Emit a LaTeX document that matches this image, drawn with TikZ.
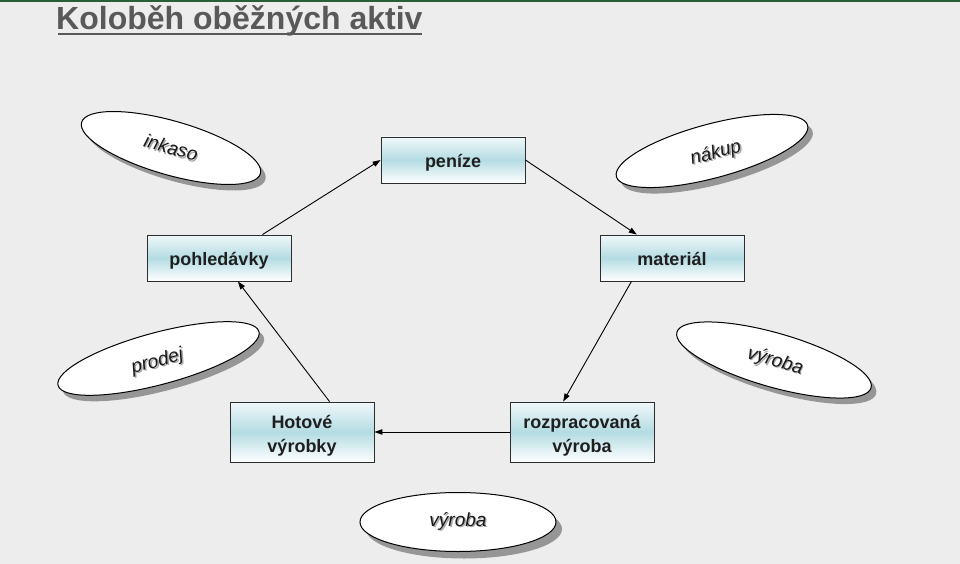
\documentclass[tikz,border=0pt]{standalone}
\usepackage{fontspec}
\setmainfont{Liberation Sans}
\usetikzlibrary{arrows.meta,calc,shapes.geometric}
\definecolor{bg}{RGB}{237,237,237}
\definecolor{titlegray}{RGB}{89,89,89}
\definecolor{topgreen}{RGB}{38,96,52}
\definecolor{boxmid}{RGB}{180,220,227}
\definecolor{boxtop}{RGB}{240,248,250}
\definecolor{shadowgray}{RGB}{150,150,150}
\definecolor{boxline}{RGB}{45,45,45}
\newcommand{\shadowtxt}[1]{\makebox[0pt][l]{\hspace{1.3pt}\raisebox{-1.3pt}{\textcolor{black!35}{#1}}}#1}
\tikzset{
  stagebox/.style={draw=boxline, line width=0.9pt, minimum width=144pt, minimum height=46pt,
    inner sep=0pt, top color=boxtop, bottom color=white, middle color=boxmid,
    font=\fontsize{18}{24}\selectfont\bfseries, align=center, text=black!88},
  oneline/.style={text height=15pt, text depth=0pt},
  flow/.style={draw=black, line width=0.9pt, -{Triangle[length=8pt,width=5.5pt]}},
  ovalshape/.style={ellipse, draw=black, line width=1pt, fill=white, inner sep=0pt, outer sep=0pt},
  ovalshadow/.style={ellipse, draw=none, fill=shadowgray, inner sep=0pt, outer sep=0pt},
  ovaltext/.style={font=\fontsize{19}{22}\selectfont\itshape, text=black!90, inner sep=0pt}
}
\begin{document}
\begin{tikzpicture}[x=1pt,y=-1pt]
\useasboundingbox (0,0) rectangle (960,564);
\fill[bg] (0,0) rectangle (960,564);
\fill[topgreen] (0,0) rectangle (960,2);

% title
\node[anchor=base west, inner sep=0pt, font=\fontsize{32}{38}\selectfont\bfseries, text=titlegray] (title) at (56,30) {Koloběh oběžných aktiv};
\draw[titlegray, line width=2.6pt] ($(title.base west)+(2,4)$) -- ($(title.base east)+(-1,4)$);

% stage boxes
\node[stagebox, oneline] (pen) at (453,160) {peníze};
\node[stagebox, oneline] (pohl) at (219,258) {pohledávky};
\node[stagebox, oneline] (mat) at (672,258) {materiál};
\node[stagebox, minimum height=60pt] (hot) at (302,432) {\rule{0pt}{21pt}Hotové\\výrobky\rule[-3.8pt]{0pt}{3.8pt}};
\node[stagebox, minimum height=60pt] (rozp) at (582,432) {\rule{0pt}{21pt}rozpracovaná\\výroba\rule[-3.8pt]{0pt}{3.8pt}};

% connectors
\draw[flow] ($(pohl.north west)!0.8!(pohl.north east)$) -- (pen.west);
\draw[flow] (pen.east) -- ($(mat.north west)!0.257!(mat.north east)$);
\draw[flow] ($(mat.south west)!0.22!(mat.south east)$) -- ($(rozp.north west)!0.37!(rozp.north east)$);
\draw[flow] (rozp.west) -- (hot.east);
\draw[flow] ($(hot.north west)!0.69!(hot.north east)$) -- ($(pohl.south west)!0.63!(pohl.south east)$);

% ovals: inkaso
\node[ovalshadow, rotate=-16, minimum width=186pt, minimum height=54pt] (inkS) at (176,154) {};
\node[ovalshape, rotate=-16, minimum width=186pt, minimum height=54pt] (ink) at (171,148) {};
\node[ovaltext, rotate=-16] (inkT) at (ink) {\shadowtxt{inkaso}};

% nákup
\node[ovalshadow, rotate=15, minimum width=198pt, minimum height=54pt] (nakS) at (717,157) {};
\node[ovalshape, rotate=15, minimum width=198pt, minimum height=54pt] (nak) at (712,151) {};
\node[ovaltext, rotate=15] (nakT) at ($(nak)+(4,3)$) {\shadowtxt{nákup}};

% prodej
\node[ovalshadow, rotate=15, minimum width=208pt, minimum height=52pt] (proS) at (163.5,364.5) {};
\node[ovalshape, rotate=15, minimum width=208pt, minimum height=52pt] (pro) at (158.5,358.5) {};
\node[ovaltext, rotate=15] (proT) at ($(pro)+(-1,4)$) {\shadowtxt{prodej}};

% výroba right
\node[ovalshadow, rotate=-16, minimum width=202pt, minimum height=54pt] (vyrRS) at (779,366) {};
\node[ovalshape, rotate=-16, minimum width=202pt, minimum height=54pt] (vyrR) at (774,360) {};
\node[ovaltext, rotate=-16] (vyrRT) at ($(vyrR)+(1,2)$) {\shadowtxt{výroba}};

% výroba bottom
\node[ovalshadow, minimum width=196pt, minimum height=59pt] (vyrBS) at (464,529) {};
\node[ovalshape, minimum width=196pt, minimum height=59pt] (vyrB) at (458,522) {};
\node[ovaltext] (vyrBT) at (vyrB) {\shadowtxt{výroba}};
\end{tikzpicture}
\end{document}
